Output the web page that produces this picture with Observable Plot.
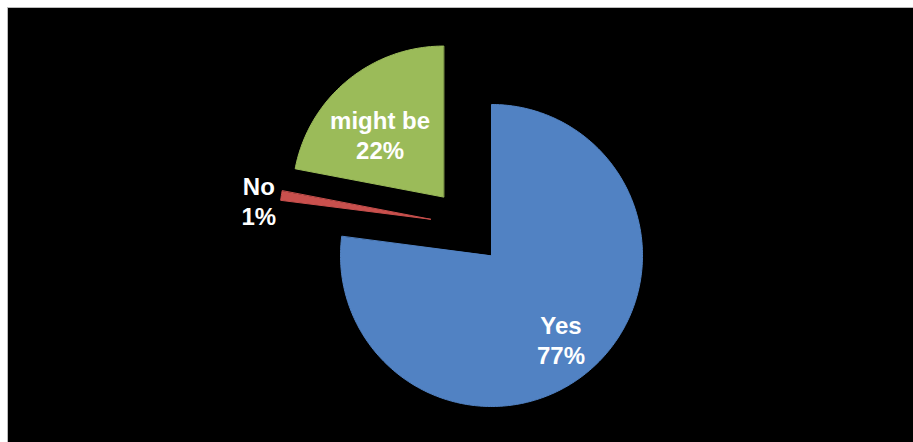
<!DOCTYPE html>
<html>
<head>
<meta charset="utf-8">
<script src="https://cdn.jsdelivr.net/npm/d3@7"></script>
<script src="https://cdn.jsdelivr.net/npm/@observablehq/plot@0.6"></script>
<style>
  html, body { margin: 0; padding: 0; background: #fff; }
  #chart { position: absolute; left: 7px; top: 7px; width: 906px; height: 435px; background: #000; border-left: 1px solid #bbb; border-top: 1px solid #bbb; box-sizing: border-box; }
  #chart svg { display: block; }
</style>
</head>
<body>
<div id="chart"></div>
<script>
// Survey answers, in clockwise order from twelve o'clock
const categories = ["Yes", "No", "might be"];
const shares = [77, 1, 22];

const colors = ["#5182C3", "#C9504D", "#9BBB59"];

// Pixel layout of the plotting area (radius of the pie = 1 data unit)
const W = 905, H = 434, R = 151, CX = 483, CY = 247;

// Exploded slices: offset of each slice's apex from the pie centre, in radii
const explode = {
  "Yes": [0, 0],
  "No": [-0.404, 0.24],
  "might be": [-0.318, 0.387]
};
// Label anchor relative to each slice's apex, in radii (x right, y up)
const labelAt = {
  "Yes": [0.46, -0.557],
  "No": [-1.137, 0.127],
  "might be": [-0.42, 0.413]
};

const pie = d3.pie().sort(null).value(d => d.value);
const arcs = pie(categories.map((c, i) => ({category: c, value: shares[i]})));

// Polygon outline of every slice (apex + arc), in data units
const outline = [];
for (const a of arcs) {
  const c = a.data.category;
  const [ox, oy] = explode[c];
  outline.push({category: c, x: ox, y: oy});
  const steps = Math.max(4, Math.ceil((a.endAngle - a.startAngle) / (Math.PI / 180)));
  for (let k = 0; k <= steps; k++) {
    const t = a.startAngle + (a.endAngle - a.startAngle) * k / steps;
    outline.push({category: c, x: ox + Math.sin(t), y: oy + Math.cos(t)});
  }
}

const labels = arcs.map(a => {
  const c = a.data.category;
  const [ox, oy] = explode[c];
  const [lx, ly] = labelAt[c];
  return {category: c, x: ox + lx, y: oy + ly, text: `${c}\n${a.data.value}%`};
});

const chart = Plot.plot({
  width: W,
  height: H,
  margin: 0,
  style: {background: "#000", overflow: "visible"},
  x: {domain: [-CX / R, (W - CX) / R], axis: null},
  y: {domain: [-(H - CY) / R, CY / R], axis: null},
  color: {domain: categories, range: colors},
  marks: [
    Plot.line(outline, {x: "x", y: "y", z: "category", fill: "category", stroke: "category", strokeWidth: 1, curve: "linear-closed"}),
    Plot.text(labels, {
      x: "x", y: "y", text: "text",
      fill: "#fff",
      fontSize: 24,
      fontWeight: "bold",
      fontFamily: "'Liberation Sans', Arial, sans-serif",
      lineHeight: 1.25
    })
  ]
});

document.getElementById("chart").append(chart);
</script>
</body>
</html>
